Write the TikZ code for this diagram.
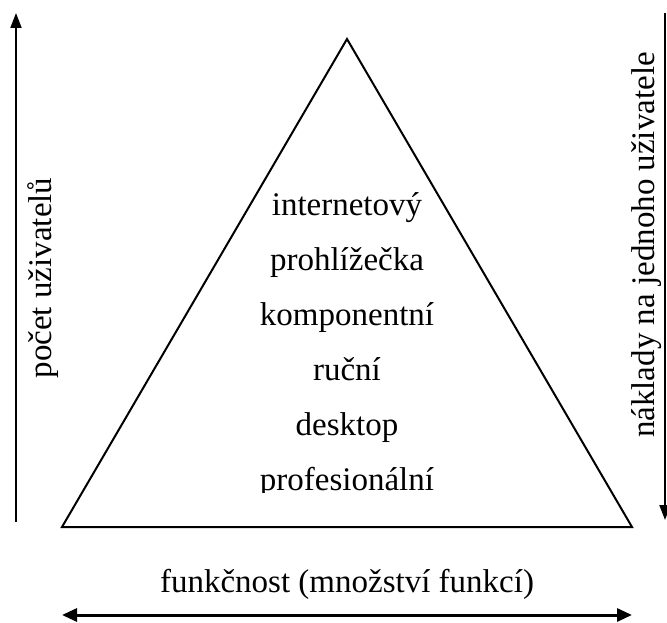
\documentclass[tikz,border=0pt]{standalone}
\usepackage{fontspec}
\setmainfont{Liberation Serif}
\usetikzlibrary{arrows.meta}

\begin{document}
\begin{tikzpicture}[x=1pt,y=-1pt,
  lbl/.style={font=\fontsize{33}{39}\selectfont,inner sep=0pt},
  axis/.style={line width=2pt,-{Triangle[length=15pt,width=11pt]}}]
\useasboundingbox (0,0) rectangle (667,623);
% pyramid
\coordinate (apex) at (347,39);
\coordinate (bl) at (62,527);
\coordinate (br) at (632,527);
\draw[line width=2pt] (apex) -- (bl) -- (br) -- cycle;
\begin{scope}
\clip (0,0) rectangle (667,492);
\foreach \t [count=\i] in {internetový,prohlížečka,komponentní,ruční,desktop,profesionální}
  \node[lbl,anchor=base] (kind\i) at (347,160+55*\i) {\t};
\end{scope}
% axes
\coordinate (usersfrom) at (16,522);
\coordinate (usersto) at (16,13);
\draw[axis] (usersfrom) -- (usersto);
\node[lbl,rotate=90] (users) at (43,278) {počet uživatelů};
\coordinate (costfrom) at (665,13);
\coordinate (costto) at (665,520);
\draw[axis] (costfrom) -- (costto);
\node[lbl,rotate=90] (cost) at (647,245) {náklady na jednoho uživatele};
\node[lbl,anchor=base] (func) at (347,592) {funkčnost (množství funkcí)};
\coordinate (funcfrom) at (62,615);
\coordinate (functo) at (632,615);
\draw[line width=3pt,{Triangle[length=15pt,width=13pt]}-{Triangle[length=15pt,width=13pt]}] (funcfrom) -- (functo);
\end{tikzpicture}
\end{document}
